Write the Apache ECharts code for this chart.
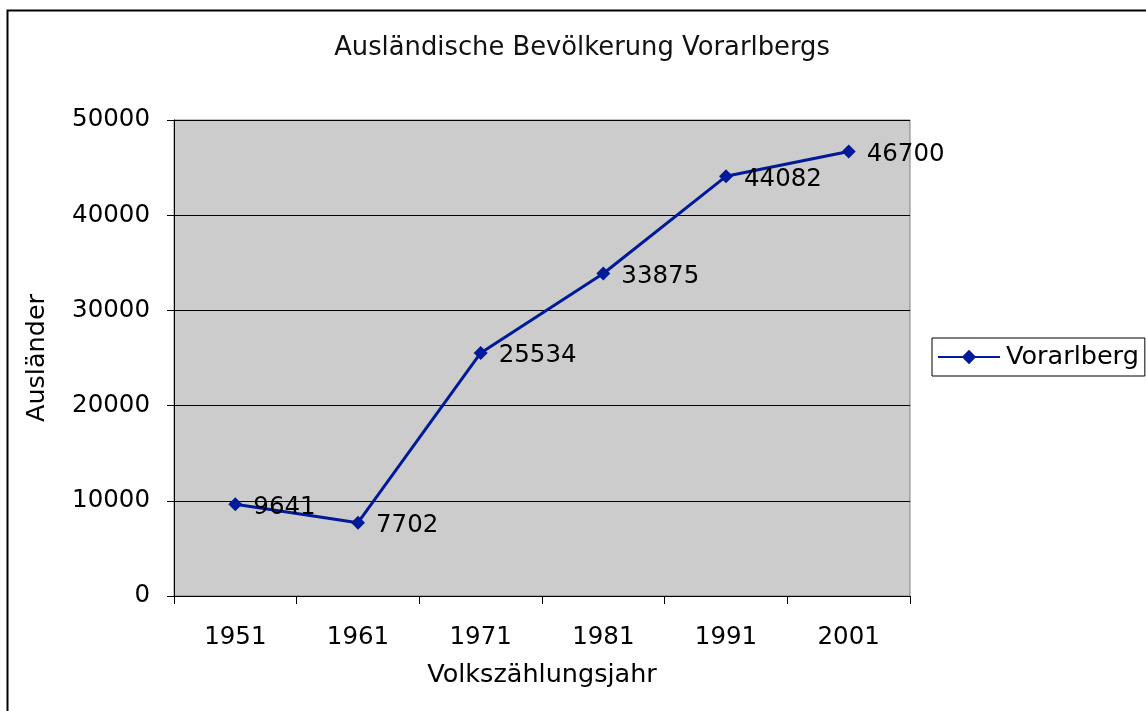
<!DOCTYPE html>
<html>
<head>
<meta charset="utf-8">
<script src="https://cdn.jsdelivr.net/npm/echarts@6/dist/echarts.min.js"></script>
<style>
html,body{margin:0;padding:0;background:#fff;}
#chart{width:1146px;height:711px;}
</style>
</head>
<body>
<div id="chart"></div>
<script>
var myChart = echarts.init(document.getElementById('chart'));

var years = ['1951', '1961', '1971', '1981', '1991', '2001'];
var auslaender = [9641, 7702, 25534, 33875, 44082, 46700];
var yTicks = [0, 10000, 20000, 30000, 40000, 50000];

var font = 'DejaVu Sans';
var lineColor = '#001A99';

var option = {
    backgroundColor: '#fff',
    textStyle: { fontFamily: font },
    title: {
        text: 'Ausländische Bevölkerung Vorarlbergs',
        left: 577,
        top: 30,
        textAlign: 'center',
        textStyle: { fontSize: 25.8, fontWeight: 'normal', color: '#111', fontFamily: font }
    },
    graphic: [{
        type: 'rect',
        shape: { x: 7.5, y: 10.5, width: 1200, height: 800 },
        style: { fill: 'none', stroke: '#000', lineWidth: 2 },
        silent: true
    }],
    legend: {
        left: 932,
        top: 338,
        orient: 'vertical',
        padding: [6, 6, 6, 5],
        borderColor: '#000',
        borderWidth: 1,
        borderRadius: 0,
        itemWidth: 62,
        itemHeight: 18,
        itemGap: 4,
        textStyle: { fontSize: 25.5, color: '#000', fontFamily: font, padding: [0, 0, 0, 1] },
        data: ['Vorarlberg']
    },
    grid: {
        left: 174,
        right: 236,
        top: 120,
        bottom: 115,
        show: true,
        backgroundColor: '#CCCCCC',
        borderColor: '#808080',
        borderWidth: 1
    },
    xAxis: {
        type: 'category',
        data: years,
        boundaryGap: true,
        name: 'Volkszählungsjahr',
        nameLocation: 'middle',
        nameGap: 66,
        nameTextStyle: { fontSize: 25.5, color: '#000', fontFamily: font },
        axisLine: { lineStyle: { color: '#000', width: 1 } },
        axisTick: { show: true, length: 8, alignWithLabel: false, lineStyle: { color: '#000' } },
        axisLabel: { fontSize: 24.5, color: '#000', margin: 29, fontFamily: font },
        splitLine: { show: false }
    },
    yAxis: {
        type: 'value',
        min: yTicks[0],
        max: yTicks[yTicks.length - 1],
        interval: 10000,
        name: 'Ausländer',
        nameLocation: 'middle',
        nameGap: 124,
        nameRotate: 90,
        nameTextStyle: { fontSize: 25.5, color: '#000', fontFamily: font },
        axisLine: { show: true, lineStyle: { color: '#000', width: 1 } },
        axisTick: { show: true, length: 7, inside: false, lineStyle: { color: '#000' } },
        axisLabel: { fontSize: 24.5, color: '#000', margin: 24, fontFamily: font, formatter: function (v) { return String(v); } },
        splitLine: { show: true, lineStyle: { color: '#000', width: 1 } }
    },
    series: [{
        name: 'Vorarlberg',
        type: 'line',
        data: auslaender,
        symbol: 'diamond',
        symbolSize: 14,
        color: lineColor,
        lineStyle: { color: lineColor, width: 3 },
        itemStyle: { color: lineColor },
        label: {
            show: true,
            position: 'right',
            distance: 11,
            offset: [0, 3],
            fontSize: 24.5,
            color: '#000',
            fontFamily: font
        },
        animation: false
    }]
};

myChart.setOption(option);
</script>
</body>
</html>
